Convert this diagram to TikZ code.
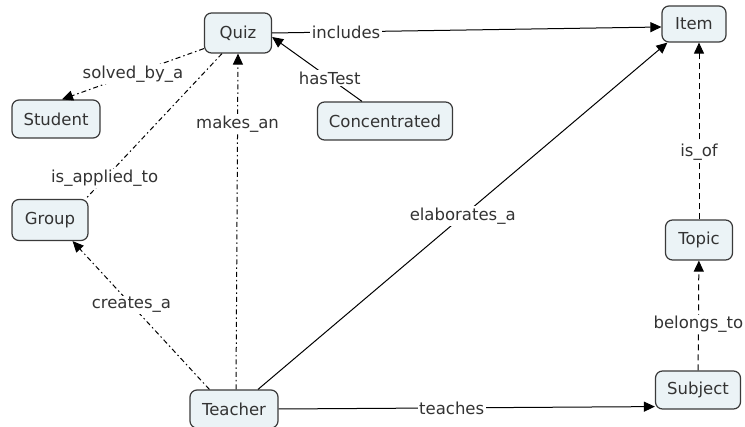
\documentclass[tikz,border=0pt]{standalone}
\usepackage{fontspec}
\setmainfont{DejaVu Sans}
\usetikzlibrary{arrows.meta}
\definecolor{boxfill}{HTML}{EBF3F6}
\definecolor{boxline}{HTML}{3A3A3A}
\definecolor{inktext}{HTML}{333333}
\begin{document}
\begin{tikzpicture}[x=1pt,y=-1pt,
    concept/.style={draw=boxline,fill=boxfill,rounded corners=7pt,line width=1.2pt,
      minimum height=38pt,inner xsep=9pt,text=inktext,font=\fontsize{16.5}{19}\selectfont},
    lbl/.style={fill=white,inner sep=1.5pt,text=inktext,font=\fontsize{16.5}{19}\selectfont},
    rel/.style={line width=1pt,-{Triangle[length=11pt,width=10pt]}},
    dashdot/.style={dash pattern=on 5pt off 3pt on 1.5pt off 3pt},
    dashline/.style={dash pattern=on 6pt off 4pt}]
  \useasboundingbox (0,0) rectangle (745,427);
  % concepts
  \node[concept,minimum width=67pt,minimum height=40pt] (quiz) at (238,33) {Quiz};
  \node[concept,minimum width=64pt,minimum height=36pt] (item) at (694,24) {Item};
  \node[concept,minimum width=88pt] (student) at (56,119) {Student};
  \node[concept,minimum width=135pt] (conc) at (385,121) {Concentrated};
  \node[concept,minimum width=76pt,minimum height=41pt] (group) at (50,220) {Group};
  \node[concept,minimum width=67pt,minimum height=40pt] (topic) at (699,240) {Topic};
  \node[concept,minimum width=88pt] (teacher) at (234,409) {Teacher};
  \node[concept,minimum width=85pt] (subject) at (698,390) {Subject};
  % links from the quiz
  \draw[rel] (quiz.east) -- node[lbl,pos=0.19] {includes} ([yshift=-3pt]item.west);
  \draw[rel,dashdot] ([yshift=5pt]quiz.south west) -- node[lbl,pos=0.5] {solved\_by\_a}
    ([xshift=6pt]student.north);
  \draw[line width=1pt,dashdot] ([xshift=-16pt]quiz.south) -- node[lbl,pos=0.86] {is\_applied\_to}
    ([xshift=-3pt]group.north east);
  \draw[rel] ([xshift=-23pt]conc.north) -- node[lbl,pos=0.36] {hasTest} ([yshift=-4pt]quiz.east);
  % links from the teacher
  \draw[rel,dashdot] ([xshift=2pt]teacher.north) -- node[lbl,pos=0.79] {makes\_an} (quiz.south);
  \draw[rel,dashdot] ([xshift=20pt]teacher.north west) -- node[lbl,pos=0.57] {creates\_a}
    ([xshift=-16pt]group.south east);
  \draw[rel] ([xshift=24pt]teacher.north) -- node[lbl,pos=0.5] {elaborates\_a}
    ([xshift=6pt]item.south west);
  \draw[rel] (teacher.east) -- node[lbl,pos=0.46] {teaches} ([yshift=3pt]subject.south west);
  % subject, topic and item
  \draw[rel,dashline] (subject) -- node[lbl,pos=0.42] {belongs\_to} (topic);
  \draw[rel,dashline] (topic) -- node[lbl,pos=0.38] {is\_of} (item.south -| topic.north);
\end{tikzpicture}
\end{document}
